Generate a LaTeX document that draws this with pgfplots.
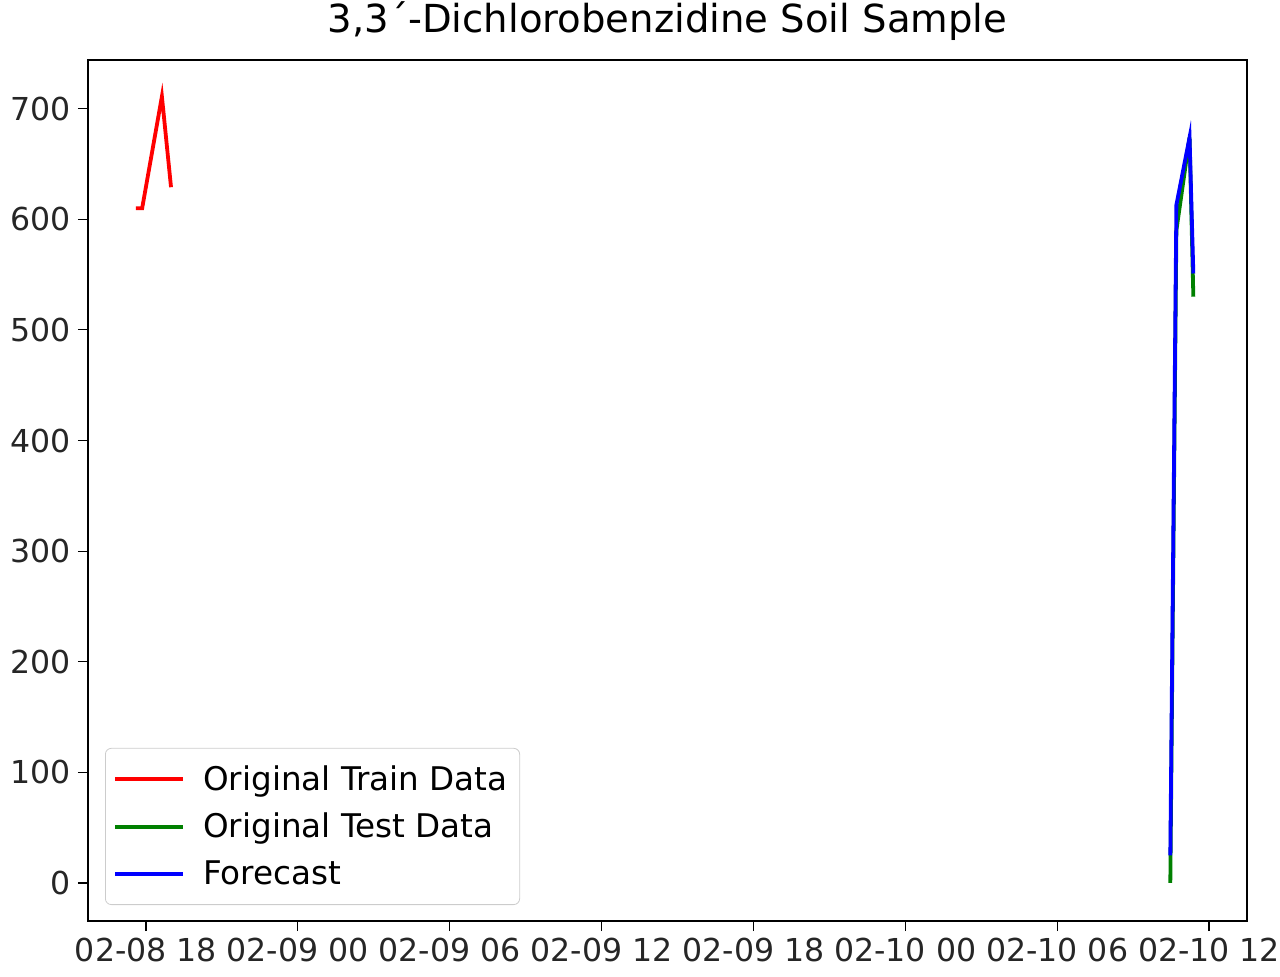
\documentclass[border=0pt]{standalone}
\usepackage{fontspec}
\setmainfont{DejaVu Sans}
\usepackage{pgfplots}
\pgfplotsset{compat=1.18}
\definecolor{mplgreen}{RGB}{0,128,0}
\begin{document}
\begin{tikzpicture}
\useasboundingbox (0,0) rectangle (640pt,488pt);
\begin{axis}[
  at={(44pt,27.5pt)}, anchor=south west,
  scale only axis, width=579.5pt, height=430.5pt,
  xmin=-2.29, xmax=43.5, ymin=-34.4, ymax=744,
  xtick={0,6,12,18,24,30,36,42},
  xticklabels={02-08 18,02-09 00,02-09 06,02-09 12,02-09 18,02-10 00,02-10 06,02-10 12},
  ytick={0,100,...,700},
  /pgf/number format/assume math mode=true,
  tick label style={font=\fontsize{15.8pt}{18pt}\selectfont, color=black!85},
  xticklabel style={inner xsep=0pt},
  yticklabel style={inner xsep=3.5pt},
  tick align=outside, tick pos=left,
  major tick length=5pt,
  every tick/.style={black, line width=0.6pt},
  axis line style={line width=0.7pt},
  title={3,3´-Dichlorobenzidine Soil Sample},
  title style={font=\fontsize{19.3pt}{22pt}\selectfont, yshift=0pt},
  legend cell align=left,
  legend style={at={(rel axis cs:0,0)}, anchor=south west, xshift=8.5pt, yshift=8pt,
    font=\fontsize{16.3pt}{19pt}\selectfont, draw=black!20, rounded corners=3pt,
    row sep=6pt, inner xsep=4pt, inner ysep=6.5pt},
  legend image code/.code={\draw[#1] (0pt,0pt) -- (34pt,0pt); \path[draw=none] (0pt,0pt) -- (42pt,0pt);},
]
\addplot[red, line width=1.9pt] coordinates {(-0.4,610) (-0.15,610) (0.63,711) (0.99,629)};
\addlegendentry{Original Train Data}
\addplot[mplgreen, line width=1.9pt] coordinates {(40.47,0) (40.71,590) (41.23,674) (41.38,530)};
\addlegendentry{Original Test Data}
\addplot[blue, line width=1.9pt] coordinates {(40.47,25) (40.71,613) (41.23,674) (41.38,551)};
\addlegendentry{Forecast}
\end{axis}
\end{tikzpicture}
\end{document}
